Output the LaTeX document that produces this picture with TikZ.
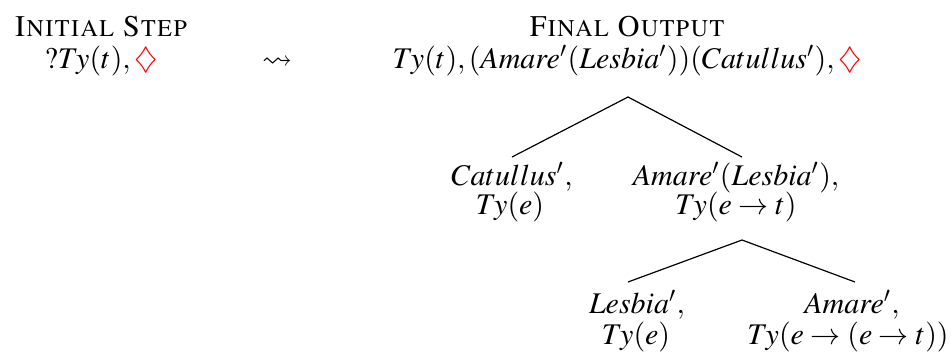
\documentclass[tikz,border=0pt]{standalone}
\usepackage[T1]{fontenc}
\usepackage{mathptmx}
\usepackage{amssymb}
\usepackage{xcolor}
\begin{document}
\begin{tikzpicture}[x=0.3333pt,y=-0.3333pt,
  txt/.style={anchor=base, inner sep=0pt, font=\fontsize{10}{12}\selectfont},
  branch/.style={draw=black, line width=0.4pt}]
\useasboundingbox (0,0) rectangle (952,355);
% headings
\node[txt] (init) at (101,36) {\textsc{Initial Step}};
\node[txt] (initf) at (101,68) {$?Ty(t),\textcolor{red}{\diamondsuit}$};
\node[txt] (arr) at (277,68) {$\leadsto$};
\node[txt] (final) at (627,36) {\textsc{Final Output}};
\node[txt] (root) at (627,68) {$Ty(t),(Amare'(Lesbia'))(Catullus'),\textcolor{red}{\diamondsuit}$};
% first level
\node[txt] (cat1) at (512,185) {$Catullus',$};
\node[txt] (cat2) at (510,214) {$Ty(e)$};
\node[txt] (am1) at (736,185) {$Amare'(Lesbia'),$};
\node[txt] (am2) at (736,214) {$Ty(e\rightarrow t)$};
% second level
\node[txt] (les1) at (637,313) {$Lesbia',$};
\node[txt] (les2) at (636,344) {$Ty(e)$};
\node[txt] (ama1) at (852,313) {$Amare',$};
\node[txt] (ama2) at (848,344) {$Ty(e\rightarrow(e\rightarrow t))$};
% tree vertices
\coordinate (r) at (628,97);
\coordinate (rc) at (512,157);
\coordinate (ra) at (742,157);
\coordinate (s) at (742,240);
\coordinate (sl) at (628,282);
\coordinate (sa) at (855,282);
\draw[branch] (rc) -- (r) -- (ra);
\draw[branch] (sl) -- (s) -- (sa);
\end{tikzpicture}
\end{document}
